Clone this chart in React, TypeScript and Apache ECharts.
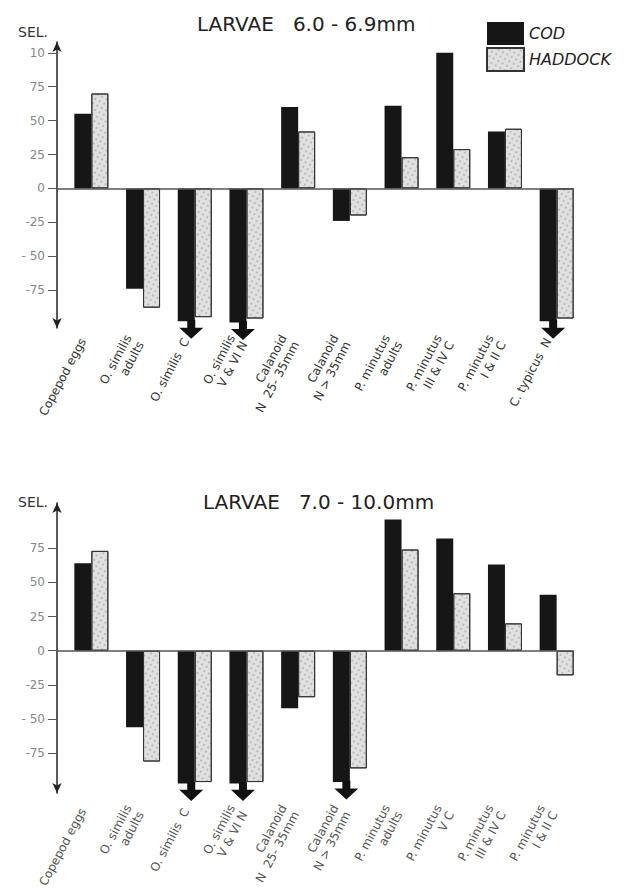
import React, { useEffect, useRef } from "react";
import * as echarts from "echarts";

// ---- data ----
const categoriesTop = [
  "Copepod eggs",
  "O. similis\nadults",
  "O. similis  C",
  "O. similis\nV & VI N",
  "Calanoid\nN  25- 35mm",
  "Calanoid\nN > 35mm",
  "P. minutus\nadults",
  "P. minutus\nIII & IV C",
  "P. minutus\nI & II C",
  "C. typicus  N",
];
const codTop = [55, -74, -98, -99, 60, -24, 61, 100, 42, -98];
const haddockTop = [70, -88, -95, -96, 42, -20, 23, 29, 44, -96];
const arrowTop = [0, 0, 1, 1, 0, 0, 0, 0, 0, 1];

const categoriesBottom = [
  "Copepod eggs",
  "O. similis\nadults",
  "O. similis  C",
  "O. similis\nV & VI N",
  "Calanoid\nN  25- 35mm",
  "Calanoid\nN > 35mm",
  "P. minutus\nadults",
  "P. minutus\nV C",
  "P. minutus\nIII & IV C",
  "P. minutus\nI & II C",
];
const codBottom = [64, -56, -97, -97, -42, -96, 96, 82, 63, 41];
const haddockBottom = [73, -81, -96, -96, -34, -86, 74, 42, 20, -18];
const arrowBottom = [0, 0, 1, 1, 0, 1, 0, 0, 0, 0];

const topTicks = [-75, -50, -25, 0, 25, 50, 75, 100];
const topTickLabels = ["-75", "- 50", "-25", "0", "25", "50", "75", "10"];
const bottomTicks = [-75, -50, -25, 0, 25, 50, 75];
const bottomTickLabels = ["-75", "- 50", "-25", "0", "25", "50", "75"];

const titles = ["LARVAE   6.0 - 6.9mm", "LARVAE   7.0 - 10.0mm"];
const seriesNames = ["COD", "HADDOCK"];

const FONT = "'DejaVu Sans', 'Open Sans', sans-serif";
const ARROW_PATH = "path://M4,0 L8,0 L8,5 L12,5 L6,12 L0,5 L4,5 Z";

function yAxisFor(gridIndex: number, min: number, max: number, ticks: number[], labels: string[], nameGap: number) {
  return {
    type: "value",
    gridIndex,
    min,
    max,
    name: "SEL.",
    nameLocation: "end",
    nameGap,
    nameTextStyle: { fontFamily: FONT, fontSize: 14, color: "#333", align: "right", verticalAlign: "middle", padding: [0, 9, 0, 0] },
    axisLine: { show: true, symbol: ["arrow", "arrow"], symbolSize: [7, 10], lineStyle: { color: "#222", width: 1.5 } },
    axisTick: { show: true, customValues: ticks, length: 9, inside: false, lineStyle: { color: "#555", width: 1 } },
    axisLabel: {
      show: true,
      customValues: ticks,
      margin: 12,
      fontFamily: FONT,
      fontSize: 12,
      color: "#888",
      formatter: (v: number) => {
        const i = ticks.indexOf(v);
        return i >= 0 ? labels[i] : "";
      },
    },
    splitLine: { show: false },
  };
}

function xAxisFor(gridIndex: number, cats: string[], color: string, margin: number) {
  return {
    type: "category",
    gridIndex,
    data: cats,
    position: "bottom",
    axisLine: { show: false, onZero: false },
    axisTick: { show: false },
    axisLabel: {
      interval: 0,
      rotate: 62,
      margin,
      fontFamily: FONT,
      fontSize: 12,
      lineHeight: 14,
      color,
    },
  };
}

const haddockStyle = {
  color: "#e0e0e0",
  borderColor: "#333",
  borderWidth: 1,
  decal: {
    symbol: "circle",
    symbolSize: 0.7,
    color: "rgba(40,40,40,0.5)",
    dashArrayX: [2, 3],
    dashArrayY: [2, 3],
    rotation: 0.5,
  },
};

function seriesFor(idx: number, cod: number[], had: number[], arrows: number[]) {
  const barW = 17;
  return [
    {
      name: "pad",
      type: "bar",
      xAxisIndex: idx,
      yAxisIndex: idx,
      barWidth: barW,
      barGap: "0%",
      data: cod.map(() => "-"),
      itemStyle: { color: "transparent" },
      silent: true,
    },
    {
      name: seriesNames[0],
      type: "bar",
      xAxisIndex: idx,
      yAxisIndex: idx,
      barWidth: barW,
      barGap: "0%",
      data: cod,
      itemStyle: { color: "#161616" },
      markLine: {
        silent: true,
        symbol: ["none", "none"],
        label: { show: false },
        lineStyle: { color: "#555", width: 1.5, type: "solid" },
        data: [{ yAxis: 0 }],
      },
    },
    {
      name: seriesNames[1],
      type: "bar",
      xAxisIndex: idx,
      yAxisIndex: idx,
      barWidth: barW,
      barGap: "0%",
      data: had,
      itemStyle: haddockStyle,
    },
    {
      name: "arrow",
      type: "scatter",
      xAxisIndex: idx,
      yAxisIndex: idx,
      symbol: ARROW_PATH,
      symbolKeepAspect: false,
      symbolSize: [24, 19],
      symbolOffset: [5, 8],
      itemStyle: { color: "#111", opacity: 1 },
      z: 5,
      data: cod.map((v, i) => (arrows[i] ? v : "-")),
    },
  ];
}

export default function App() {
  const ref = useRef<HTMLDivElement>(null);
  useEffect(() => {
    if (!ref.current) return;
    const chart = echarts.init(ref.current, undefined, { renderer: "svg" });
    chart.setOption({
      animation: false,
      backgroundColor: "#fff",
      title: [
        { text: titles[0], left: 192, top: 9, textStyle: { fontFamily: FONT, fontSize: 20, fontWeight: "normal", color: "#222" } },
        { text: titles[1], left: 198, top: 487, textStyle: { fontFamily: FONT, fontSize: 20, fontWeight: "normal", color: "#222" } },
      ],
      legend: {
        data: seriesNames.map((n) => ({ name: n, icon: "rect" })),
        orient: "vertical",
        left: 481,
        top: 17,
        itemWidth: 37,
        itemHeight: 23,
        itemGap: 2,
        selectedMode: false,
        textStyle: { fontFamily: FONT, fontSize: 16, fontStyle: "italic", color: "#222" },
      },
      grid: [
        { left: 57, width: 517, top: 42, height: 286 },
        { left: 57, width: 517, top: 503, height: 290 },
      ],
      xAxis: [xAxisFor(0, categoriesTop, "#333", 11), xAxisFor(1, categoriesBottom, "#555", 16)],
      yAxis: [
        yAxisFor(0, -103, 108, topTicks, topTickLabels, 10),
        yAxisFor(1, -104, 108, bottomTicks, bottomTickLabels, 1),
      ],
      series: [...seriesFor(0, codTop, haddockTop, arrowTop), ...seriesFor(1, codBottom, haddockBottom, arrowBottom)],
    });
    return () => chart.dispose();
  }, []);
  return (
    <div
      ref={ref}
      style={{ position: "absolute", left: 0, top: 0, width: 635, height: 896, background: "#fff" }}
    />
  );
}
